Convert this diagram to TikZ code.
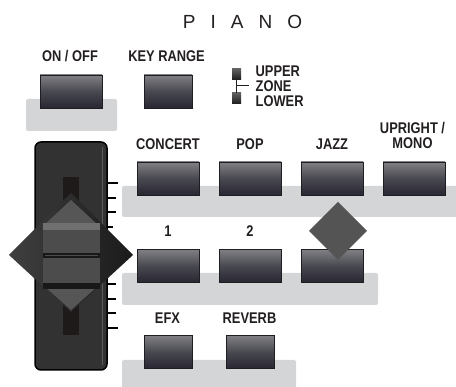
\documentclass[tikz,border=0pt]{standalone}
\usepackage{fontspec}
\newfontfamily\labfont{Liberation Sans}[FakeStretch=0.83]
\newfontfamily\pianofont{Liberation Sans}
\definecolor{bandgray}{RGB}{212,213,214}
\definecolor{btntop}{RGB}{128,128,132}
\definecolor{btnmid}{RGB}{72,72,80}
\definecolor{btnbot}{RGB}{40,39,50}
\definecolor{btnedge}{RGB}{30,30,34}
\definecolor{labcol}{RGB}{35,31,32}
\definecolor{sliderbody}{RGB}{50,50,50}
\definecolor{sliderline}{RGB}{92,92,92}
\definecolor{slotcol}{RGB}{30,26,26}
\definecolor{dleft}{RGB}{64,64,64}
\definecolor{dright}{RGB}{26,26,26}
\definecolor{innertri}{RGB}{86,86,86}
\definecolor{knobtop}{RGB}{112,112,112}
\definecolor{knobbody}{RGB}{76,76,76}
\definecolor{knobdark}{RGB}{24,24,24}
\definecolor{smalldia}{RGB}{84,84,84}
\definecolor{zonetop}{RGB}{95,95,95}
\definecolor{zonebot}{RGB}{28,28,28}
\begin{document}
\begin{tikzpicture}[x=1pt,y=-1pt,
  band/.style={fill=bandgray, rounded corners=2pt},
  btn/.style={rectangle, inner sep=0pt, minimum height=33pt, draw=btnedge, line width=0.6pt,
    top color=btntop, bottom color=btnbot, middle color=btnmid},
  widebtn/.style={btn, minimum width=62pt},
  narrowbtn/.style={btn, minimum width=48pt},
  lab/.style={inner sep=0pt, anchor=base, text=labcol, font=\labfont\bfseries\fontsize{15.5}{12.5}\selectfont},
  zonesq/.style={rectangle, inner sep=0pt, minimum width=9pt, minimum height=11pt, top color=zonetop, bottom color=zonebot},
  tick/.style={line width=1.4pt, draw=black},
]
\useasboundingbox (0,0) rectangle (456,387);

% title
\node[inner sep=0pt, anchor=base, text=labcol, font=\pianofont\fontsize{19}{19}\selectfont] (title) at (242.5,28.5)
  {P\hspace{15pt}I\hspace{15pt}A\hspace{15pt}N\hspace{15pt}O};

% bands
\fill[band] (26,99) rectangle (117,131);
\fill[band] (122,186) rectangle (460,217);
\fill[band] (122,273) rectangle (378,305);
\fill[band] (122,360) rectangle (296,390);

% top row
\node[lab] (lonoff) at (70,62) {ON / OFF};
\node[lab] (lkey) at (166.5,62) {KEY RANGE};
\node[widebtn] (onoff) at (71,91.5) {};
\node[narrowbtn] (keyrange) at (168,91.5) {};

% zone indicator
\node[zonesq] (upsq) at (236.5,74.5) {};
\node[zonesq] (lowsq) at (236.5,98.5) {};
\coordinate (zonejoin) at (236.5,86);
\coordinate (zonetip) at (249,86);
\draw[line width=1pt, labcol] (upsq.south) -- (lowsq.north);
\draw[line width=1pt, labcol] (zonejoin) -- (zonetip);
\node[lab, anchor=base west] (lupper) at (255.5,77) {UPPER};
\node[lab, anchor=base west] (lzone) at (255.5,92) {ZONE};
\node[lab, anchor=base west] (llower) at (255.5,107) {LOWER};

% row 1
\node[lab] (lconcert) at (168,150) {CONCERT};
\node[lab] (lpop) at (250,150) {POP};
\node[lab] (ljazz) at (332,150) {JAZZ};
\node[lab] (lupright) at (412.5,134) {UPRIGHT /};
\node[lab] (lmono) at (412.5,149) {MONO};
\node[widebtn] (concert) at (168,178.5) {};
\node[widebtn] (pop) at (250,178.5) {};
\node[widebtn] (jazz) at (332,178.5) {};
\node[widebtn] (upright) at (414,178.5) {};

% row 2
\node[lab] (lone) at (168,237) {1};
\node[lab] (ltwo) at (250,237) {2};
\node[widebtn] (one) at (168,266) {};
\node[widebtn] (two) at (250,266) {};
\node[widebtn] (three) at (332,266) {};
\fill[smalldia] (338,202) -- (367,231) -- (338,260) -- (309,231) -- cycle;

% row 3
\node[lab] (lefx) at (167.5,324) {EFX};
\node[lab] (lreverb) at (249.5,324) {REVERB};
\node[narrowbtn] (efx) at (168,352) {};
\node[narrowbtn] (reverb) at (250,352) {};

% slider
\draw[line width=1.5pt, fill=sliderbody, rounded corners=6pt] (35,142) rectangle (107,370);
\draw[sliderline, line width=0.6pt] (102,147) -- (102,365);
\fill[slotcol] (63,177) rectangle (79,335);
\draw[tick] (107,183) -- (118,183);
\draw[tick] (107,198) -- (116,198);
\draw[tick] (107,212) -- (116,212);
\draw[tick] (107,227) -- (113,227);
\draw[tick] (107,284) -- (116,284);
\draw[tick] (107,299) -- (116,299);
\draw[tick] (107,313) -- (116,313);
\draw[tick] (107,328) -- (118,328);
\shade[left color=dleft, right color=dright] (71,193) -- (133,255) -- (71,312) -- (9,255) -- cycle;
\fill[innertri] (71,200) -- (98,225) -- (44,225) -- cycle;
\fill[innertri] (44,286) -- (98,286) -- (71,310) -- cycle;
% knob
\fill[knobbody] (43,223) rectangle (100,289);
\fill[knobtop] (43,223) rectangle (100,230);
\fill[knobdark] (43,283) rectangle (100,289);
\fill[knobdark] (43,253) rectangle (100,258.5);
\draw[knobbody, line width=0.7pt] (45,255.7) -- (98,255.7);
\end{tikzpicture}
\end{document}
